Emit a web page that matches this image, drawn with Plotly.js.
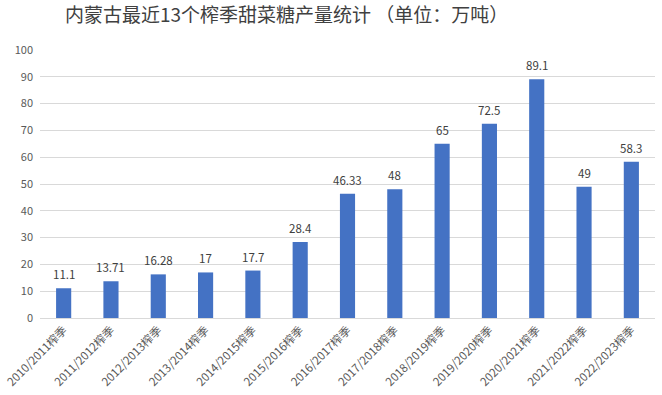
<!DOCTYPE html>
<html><head><meta charset="utf-8">
<script src="https://cdn.plot.ly/plotly-3.0.1.min.js"></script>
<style>body{margin:0;background:#fff}#c{width:662px;height:395px}</style>
</head><body><div id="c"></div>
<script>
const categories = ["2010/2011榨季","2011/2012榨季","2012/2013榨季","2013/2014榨季","2014/2015榨季","2015/2016榨季","2016/2017榨季","2017/2018榨季","2018/2019榨季","2019/2020榨季","2020/2021榨季","2021/2022榨季","2022/2023榨季"];
const values = [11.1,13.71,16.28,17,17.7,28.4,46.33,48,65,72.5,89.1,49,58.3];
const labels = ["11.1","13.71","16.28","17","17.7","28.4","46.33","48","65","72.5","89.1","49","58.3"];
const yTicks = [0,10,20,30,40,50,60,70,80,90,100];
const font = "'Noto Sans CJK SC', 'Liberation Sans', sans-serif";
const annotations = categories.map((c,i)=>({x:c, y:values[i], text:labels[i], showarrow:false,
  yanchor:'bottom', yshift:4, font:{size:11.5, color:'#404040', family:font}}));
Plotly.newPlot('c', [{
  type:'bar', x:categories, y:values,
  marker:{color:'#4472C4'}
}], {
  width:662, height:395,
  margin:{l:40, r:7, t:50, b:77},
  bargap:0.68,
  annotations:annotations,
  title:{text:'内蒙古最近13个榨季甜菜糖产量统计 （单位：万吨）', x:0.098, xanchor:'left', y:0.962, yanchor:'middle',
    font:{size:19, color:'#404040', family:font}},
  xaxis:{tickangle:-45, tickfont:{size:11.5, color:'#595959', family:font}, showline:true, linecolor:'#d9d9d9', ticks:''},
  yaxis:{range:[0,100], tickvals:yTicks, tickfont:{size:11, color:'#595959', family:font}, gridcolor:'#d9d9d9', zeroline:false, ticks:'', ticklabelstandoff:6},
  showlegend:false, plot_bgcolor:'#fff', paper_bgcolor:'#fff'
}, {displayModeBar:false, staticPlot:true});
</script></body></html>
